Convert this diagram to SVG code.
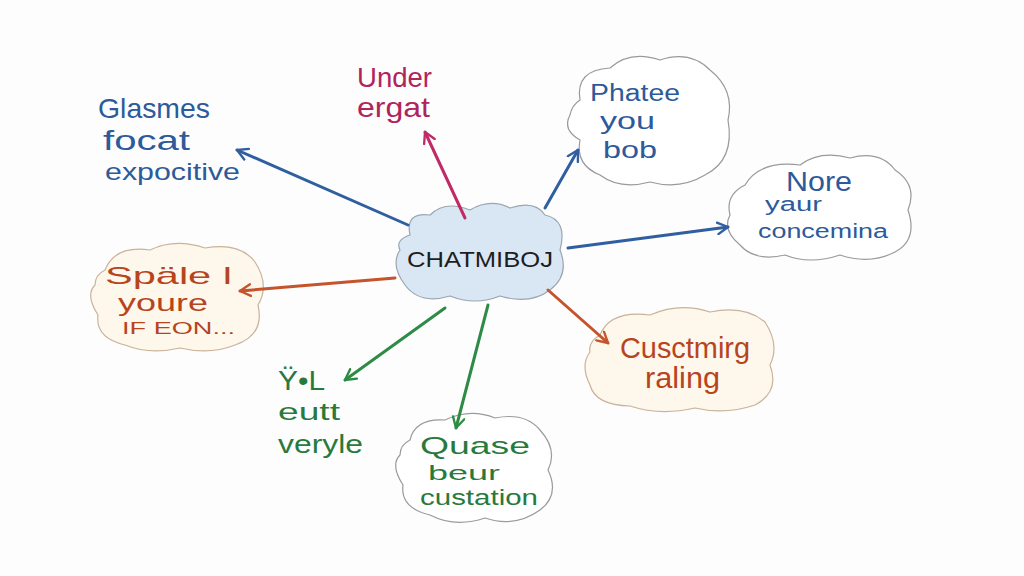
<svg xmlns="http://www.w3.org/2000/svg" width="1024" height="576" viewBox="0 0 1024 576">
<defs>
<style>
.t{font-family:"Liberation Sans","DejaVu Sans",sans-serif;}
.cl{fill:#ffffff;stroke:#9a9a9a;stroke-width:1.2;}
.cw{fill:#fdf7ec;stroke:#c9b39a;stroke-width:1.2;}
.ln{fill:none;stroke-width:3;stroke-linecap:round;}
.blue{fill:#2c5a9a;}
.mag{fill:#b0245c;}
.org{fill:#b8441e;}
.grn{fill:#287a3c;}
.blk{fill:#1e1e1e;}
</style>
<marker id="ab" viewBox="0 0 12 12" refX="10" refY="6" markerWidth="14" markerHeight="14" orient="auto" markerUnits="userSpaceOnUse"><path d="M1,1 L10,6 L1,11" fill="none" stroke="#2f5fa0" stroke-width="2" stroke-linecap="round" stroke-linejoin="round"/></marker>
<marker id="am" viewBox="0 0 12 12" refX="10" refY="6" markerWidth="14" markerHeight="14" orient="auto" markerUnits="userSpaceOnUse"><path d="M1,1 L10,6 L1,11" fill="none" stroke="#c02a66" stroke-width="2" stroke-linecap="round" stroke-linejoin="round"/></marker>
<marker id="ao" viewBox="0 0 12 12" refX="10" refY="6" markerWidth="14" markerHeight="14" orient="auto" markerUnits="userSpaceOnUse"><path d="M1,1 L10,6 L1,11" fill="none" stroke="#c5532b" stroke-width="2" stroke-linecap="round" stroke-linejoin="round"/></marker>
<marker id="ag" viewBox="0 0 12 12" refX="10" refY="6" markerWidth="14" markerHeight="14" orient="auto" markerUnits="userSpaceOnUse"><path d="M1,1 L10,6 L1,11" fill="none" stroke="#2e8b45" stroke-width="2" stroke-linecap="round" stroke-linejoin="round"/></marker>
</defs>
<rect width="1024" height="576" fill="#fdfdfd"/>
<g id="center">
<path d="M410 235 Q405 212 430 215 Q445 200 470 210 Q490 198 510 208 Q535 200 545 215 Q568 220 560 250 Q570 275 550 290 Q530 305 500 296 Q475 306 450 296 Q420 305 405 285 Q390 265 400 250 Q395 240 410 235 Z" fill="#d9e6f3" stroke="#9aa6b2" stroke-width="1.2"/>
<text class="t blk" x="407" y="267" font-size="22" textLength="146" lengthAdjust="spacingAndGlyphs">CHATMIBOJ</text>
</g>
<g id="node-glasmes">
<text class="t blue" x="98" y="118" font-size="28" textLength="112" lengthAdjust="spacingAndGlyphs">Glasmes</text>
<text class="t blue" x="103" y="150" font-size="28" textLength="87" lengthAdjust="spacingAndGlyphs">focat</text>
<text class="t blue" x="105" y="180" font-size="24" textLength="135" lengthAdjust="spacingAndGlyphs">expocitive</text>
</g>
<g id="node-under">
<text class="t mag" x="357" y="87" font-size="28" textLength="75" lengthAdjust="spacingAndGlyphs">Under</text>
<text class="t mag" x="357" y="117" font-size="28" textLength="73" lengthAdjust="spacingAndGlyphs">ergat</text>
</g>
<g id="node-phatee">
<path class="cl" d="M580 100 Q575 70 610 68 Q630 50 660 60 Q690 50 710 70 Q735 90 728 120 Q735 160 705 175 Q680 190 650 182 Q620 190 600 175 Q575 165 580 140 Q562 130 570 115 Q572 105 580 100 Z"/>
<text class="t blue" x="590" y="101" font-size="23" textLength="90" lengthAdjust="spacingAndGlyphs">Phatee</text>
<text class="t blue" x="600" y="129" font-size="23" textLength="55" lengthAdjust="spacingAndGlyphs">you</text>
<text class="t blue" x="603" y="158" font-size="24" textLength="54" lengthAdjust="spacingAndGlyphs">bob</text>
</g>
<g id="node-nore">
<path class="cl" d="M745 185 Q760 160 800 165 Q820 150 850 158 Q880 150 895 170 Q918 185 908 210 Q918 240 895 252 Q870 265 840 255 Q810 265 785 255 Q755 262 740 245 Q722 230 730 215 Q725 195 745 185 Z"/>
<text class="t blue" x="786" y="191" font-size="28" textLength="66" lengthAdjust="spacingAndGlyphs">Nore</text>
<text class="t blue" x="765" y="211" font-size="20" textLength="57" lengthAdjust="spacingAndGlyphs">yaur</text>
<text class="t blue" x="758" y="238" font-size="20" textLength="130" lengthAdjust="spacingAndGlyphs">concemina</text>
</g>
<g id="node-spale">
<path class="cw" d="M105 270 Q115 245 150 250 Q175 238 205 248 Q240 242 255 262 Q270 285 258 305 Q265 335 235 345 Q210 355 180 348 Q150 355 125 345 Q95 338 98 315 Q85 295 95 285 Q95 275 105 270 Z"/>
<text class="t org" x="105" y="284" font-size="24" textLength="127" lengthAdjust="spacingAndGlyphs">Späle l</text>
<text class="t org" x="118" y="311" font-size="23" textLength="90" lengthAdjust="spacingAndGlyphs">youre</text>
<text class="t org" x="122" y="334" font-size="16" textLength="113" lengthAdjust="spacingAndGlyphs">IF EON...</text>
</g>
<g id="node-yl">
<text class="t grn" x="278" y="390" font-size="28" textLength="47" lengthAdjust="spacingAndGlyphs">Ÿ•L</text>
<text class="t grn" x="278" y="420" font-size="24" textLength="62" lengthAdjust="spacingAndGlyphs">eutt</text>
<text class="t grn" x="278" y="453" font-size="26" textLength="85" lengthAdjust="spacingAndGlyphs">veryle</text>
</g>
<g id="node-quase">
<path class="cl" d="M410 440 Q415 418 445 420 Q470 408 495 418 Q525 412 540 430 Q558 450 548 470 Q560 495 540 510 Q515 528 485 518 Q455 528 430 515 Q400 508 403 485 Q390 465 400 455 Q400 445 410 440 Z"/>
<text class="t grn" x="420" y="454" font-size="24" textLength="110" lengthAdjust="spacingAndGlyphs">Quase</text>
<text class="t grn" x="428" y="480" font-size="21" textLength="72" lengthAdjust="spacingAndGlyphs">beur</text>
<text class="t grn" x="420" y="505" font-size="22" textLength="118" lengthAdjust="spacingAndGlyphs">custation</text>
</g>
<g id="node-cusct">
<path class="cw" d="M600 335 Q610 310 650 315 Q680 302 710 312 Q745 305 765 322 Q780 345 770 365 Q780 392 755 405 Q725 415 695 408 Q660 416 630 406 Q595 405 590 385 Q580 365 590 352 Q588 342 600 335 Z"/>
<text class="t org" x="620" y="358" font-size="30" textLength="130" lengthAdjust="spacingAndGlyphs">Cusctmirg</text>
<text class="t org" x="645" y="388" font-size="30" textLength="75" lengthAdjust="spacingAndGlyphs">raling</text>
</g>
<g id="connectors">
<path class="ln" d="M408,225 L237,150" stroke="#2f5fa0" marker-end="url(#ab)"/>
<path class="ln" d="M465,218 L425,132" stroke="#c02a66" marker-end="url(#am)"/>
<path class="ln" d="M545,208 L578,150" stroke="#2f5fa0" marker-end="url(#ab)"/>
<path class="ln" d="M568,248 L728,227" stroke="#2f5fa0" marker-end="url(#ab)"/>
<path class="ln" d="M395,278 L240,291" stroke="#c5532b" marker-end="url(#ao)"/>
<path class="ln" d="M445,308 L345,380" stroke="#2e8b45" marker-end="url(#ag)"/>
<path class="ln" d="M488,305 L456,428" stroke="#2e8b45" marker-end="url(#ag)"/>
<path class="ln" d="M548,290 L608,343" stroke="#c5532b" marker-end="url(#ao)"/>
</g>
</svg>
